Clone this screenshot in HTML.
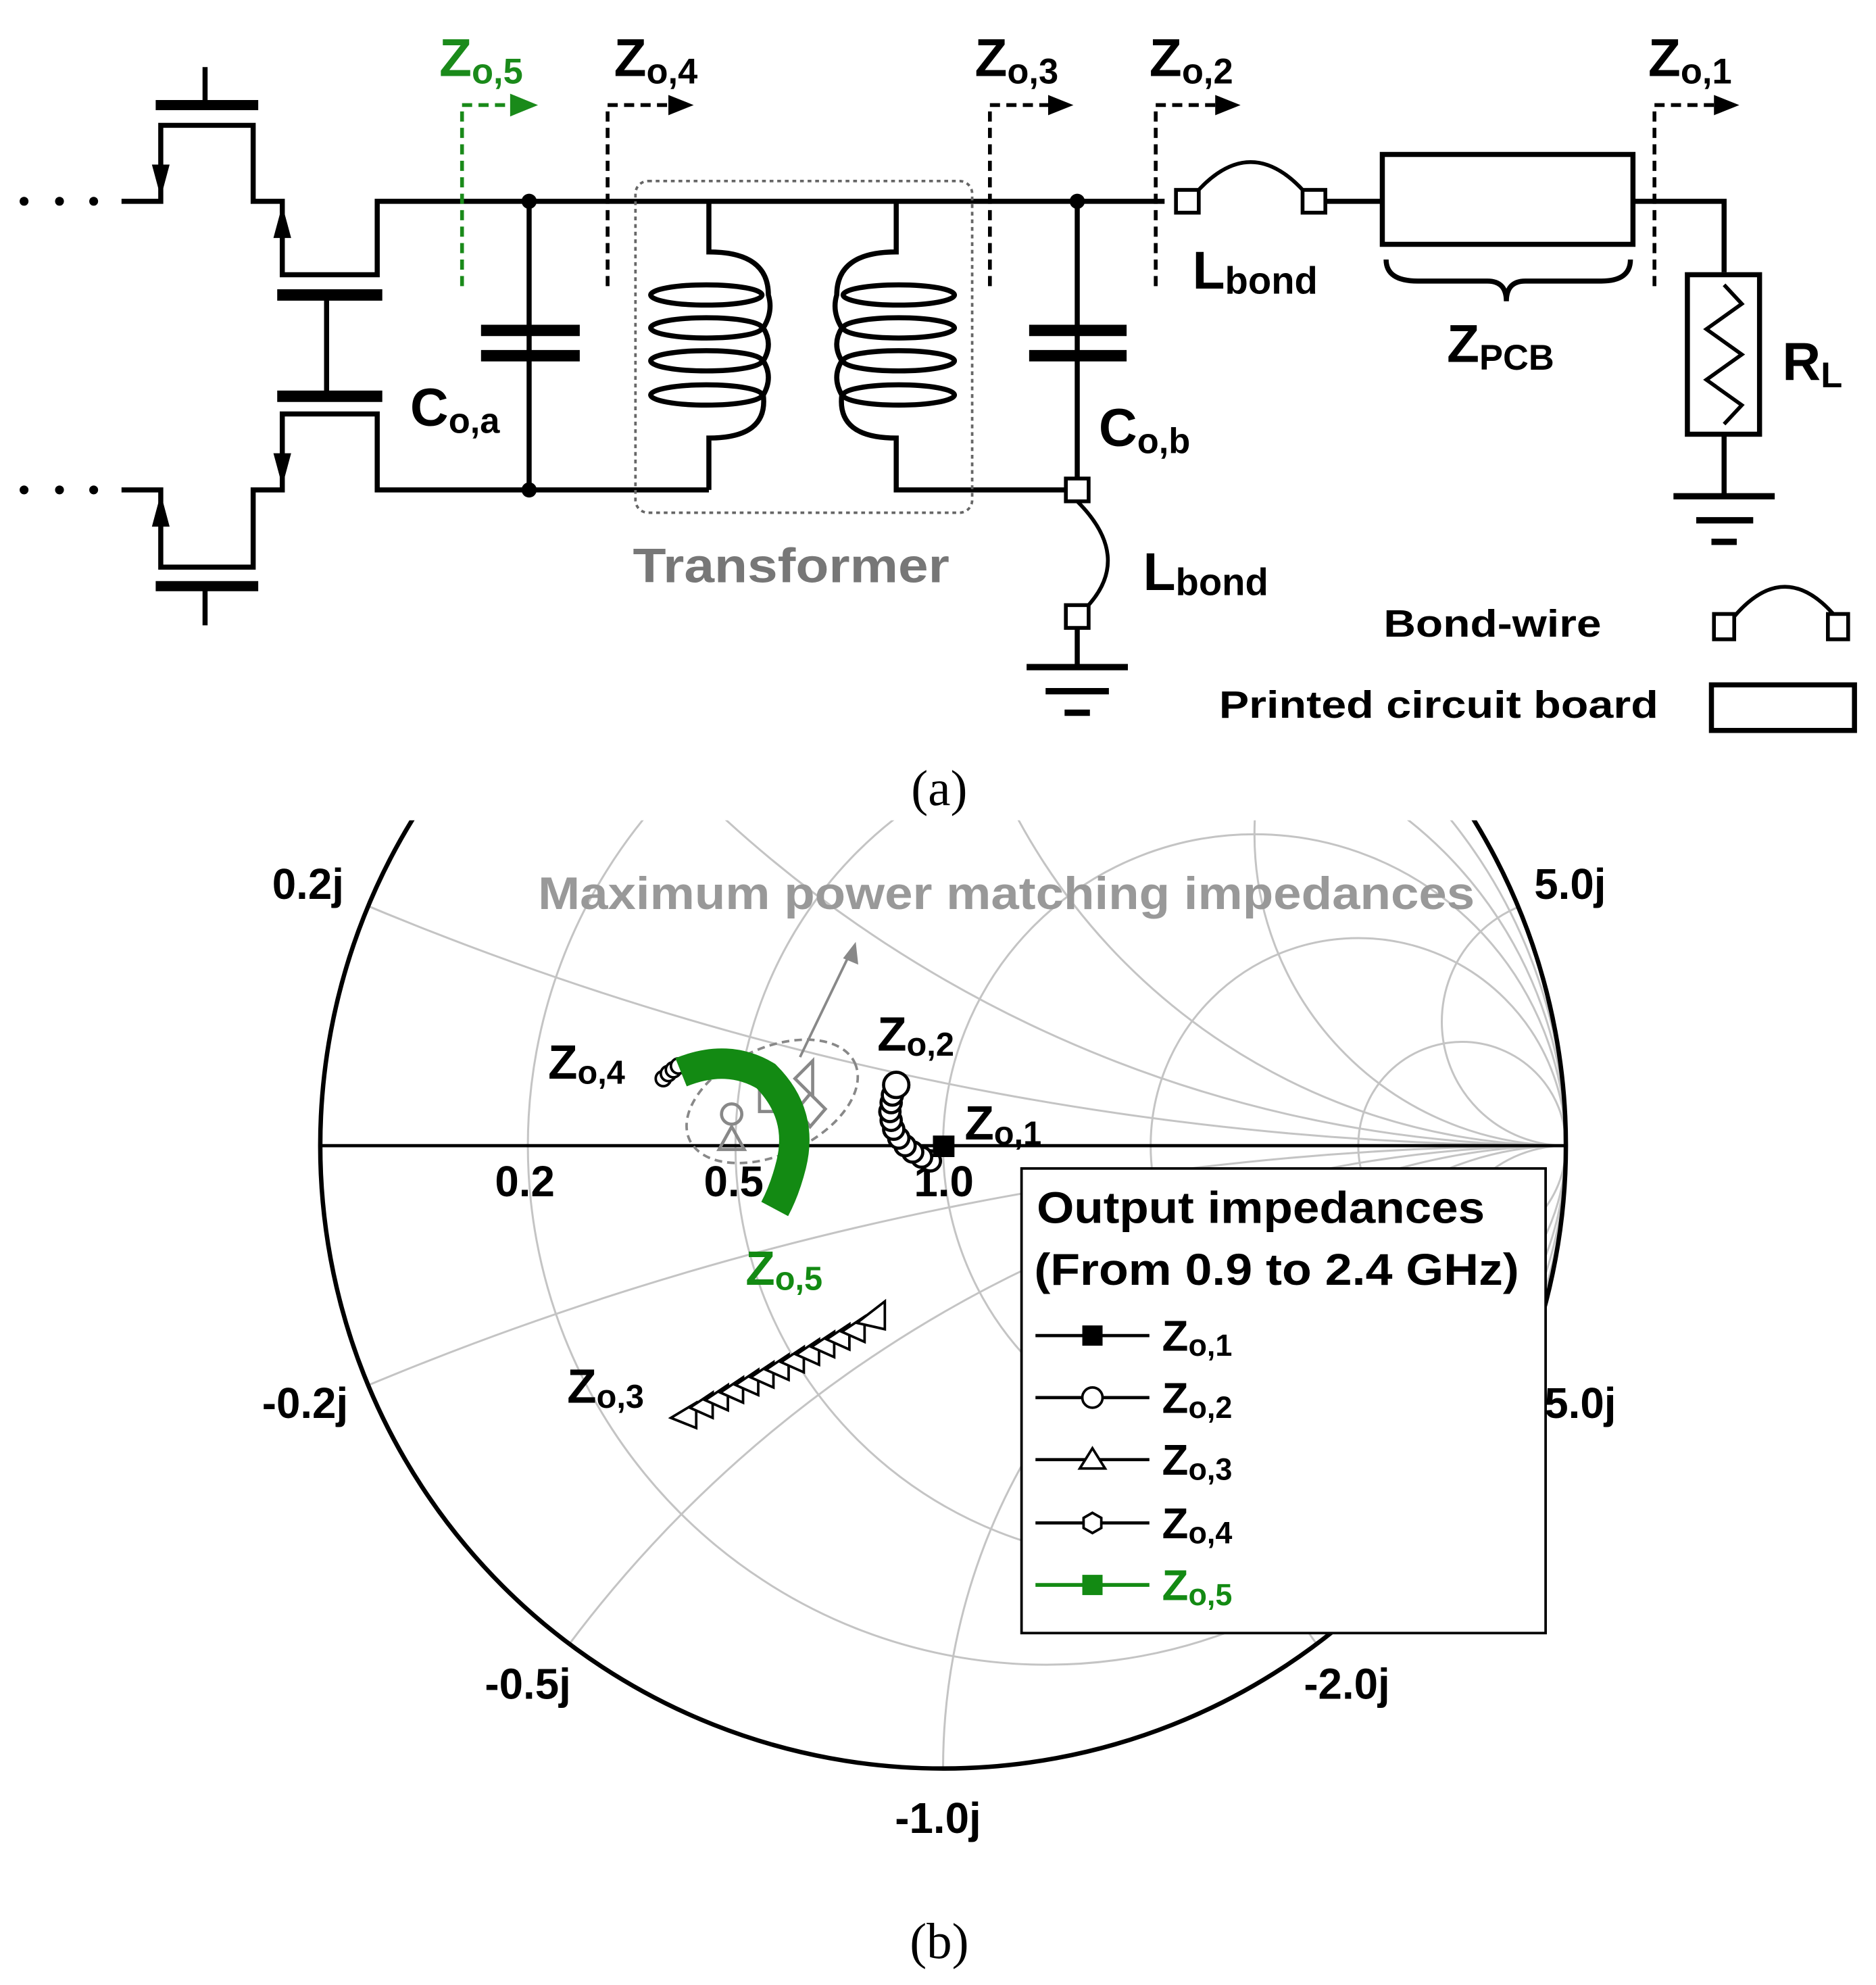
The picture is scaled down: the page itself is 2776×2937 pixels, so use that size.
<!DOCTYPE html>
<html><head><meta charset="utf-8"><style>
html,body{margin:0;padding:0;background:#fff;overflow:hidden;width:2776px;height:2937px;}
svg{display:block;}
text{font-family:"Liberation Sans",sans-serif;font-weight:bold;}
.s{font-family:"Liberation Serif",serif;font-weight:normal;}
</style></head><body>
<svg width="2776" height="2937" viewBox="0 0 1482 1568" preserveAspectRatio="none" xmlns="http://www.w3.org/2000/svg">
<defs>
<clipPath id="uc"><circle cx="745" cy="905" r="492"/></clipPath>
<clipPath id="top"><rect x="0" y="648" width="1482" height="920"/></clipPath>
</defs>
<g fill="none" stroke="#000" stroke-width="4">
<path d="M162,53V83"/>
<path d="M123,83H204" stroke-width="8"/>
<path d="M96,159H127V99H200V159H223V217H298V159H920"/>
<path d="M123,463H204" stroke-width="8"/><path d="M162,463V494"/>
<path d="M96,387H127V448H200V387H223V327H298V387H560"/>
<path d="M219,233H302M219,313H302" stroke-width="9"/>
<path d="M258,233V313"/>
<path d="M418,159V387"/><path d="M380,261H458M380,281H458" stroke-width="9"/>
<path d="M560,159V199Q607,199 607,233Q611,246 603,259Q611,272 603,285Q611,298 603,312Q607,346 560,346V387"/>
<ellipse cx="558" cy="233" rx="44" ry="8"/><ellipse cx="558" cy="259" rx="44" ry="8"/><ellipse cx="558" cy="285" rx="44" ry="8"/><ellipse cx="558" cy="312" rx="44" ry="8"/>
<path d="M708,159V199Q661,199 661,233Q657,246 665,259Q657,272 665,285Q657,298 665,312Q661,346 708,346V387H843"/>
<ellipse cx="710" cy="233" rx="44" ry="8"/><ellipse cx="710" cy="259" rx="44" ry="8"/><ellipse cx="710" cy="285" rx="44" ry="8"/><ellipse cx="710" cy="312" rx="44" ry="8"/>
<path d="M851,159V378"/><path d="M813,261H890M813,281H890" stroke-width="9"/>
<path d="M851,396Q895,440 859,479" stroke-width="3"/>
<path d="M851,496V527"/>
<path d="M811,527H891M826,546H876" stroke-width="5"/><path d="M841,563H861" stroke-width="5"/>
<path d="M946,151Q988,105 1030,151" stroke-width="3"/>
<path d="M1047,159H1092"/>
<rect x="1092" y="122" width="198" height="71"/>
<path d="M1290,159H1362V215M1362,343V392"/>
<rect x="1333" y="217" width="57" height="126"/>
<path d="M1362,225L1376,240L1348,260L1376,280L1348,300L1376,320L1362,335" stroke-width="3"/>
<path d="M1322,392H1402M1340,411H1385M1352,428H1372" stroke-width="5"/>
<path d="M1095,205Q1095,222 1120,222H1175Q1190,222 1190,238Q1190,222 1205,222H1265Q1288,222 1288,205" stroke-width="4"/>
<path d="M1370,487Q1410,440 1450,487" stroke-width="3"/>
<rect x="1352" y="541" width="113" height="36"/>
</g>
<g fill="#fff" stroke="#000" stroke-width="3">
<rect x="929" y="150" width="18" height="18"/><rect x="1029" y="150" width="18" height="18"/>
<rect x="842" y="378" width="18" height="18"/><rect x="842" y="478" width="18" height="18"/>
<rect x="1354" y="485" width="16" height="20"/><rect x="1444" y="485" width="16" height="20"/>
</g>
<g fill="#000"><circle cx="19" cy="159" r="3.5"/><circle cx="47" cy="159" r="3.5"/><circle cx="74" cy="159" r="3.5"/>
<circle cx="19" cy="387" r="3.5"/><circle cx="47" cy="387" r="3.5"/><circle cx="74" cy="387" r="3.5"/>
<circle cx="418" cy="159" r="6"/><circle cx="418" cy="387" r="6"/><circle cx="851" cy="159" r="6"/>
<path d="M127,156L120,130L134,130z"/><path d="M223,162L216,188L230,188z"/>
<path d="M127,390L120,416L134,416z"/><path d="M223,384L216,358L230,358z"/>
</g>
<rect x="502" y="143" width="266" height="262" rx="10" fill="none" stroke="#666" stroke-width="2" stroke-dasharray="3,3"/>
<g fill="none" stroke-width="3" stroke-dasharray="8,5">
<path d="M365,226V83H405" stroke="#1a8a1a"/>
<path d="M480,226V83H530" stroke="#000"/>
<path d="M782,226V83H830" stroke="#000"/>
<path d="M913,226V83H962" stroke="#000"/>
<path d="M1307,226V83H1356" stroke="#000"/>
</g>
<path d="M403,74L425,83L403,92z" fill="#1a8a1a"/>
<path d="M528,75L548,83L528,91z"/><path d="M828,75L848,83L828,91z"/><path d="M960,75L980,83L960,91z"/><path d="M1354,75L1374,83L1354,91z"/>
<g font-size="42">
<text x="347" y="60" fill="#1a8a1a">Z<tspan font-size="28" dy="6">o,5</tspan></text>
<text x="485" y="60">Z<tspan font-size="28" dy="6">o,4</tspan></text>
<text x="770" y="60">Z<tspan font-size="28" dy="6">o,3</tspan></text>
<text x="908" y="60">Z<tspan font-size="28" dy="6">o,2</tspan></text>
<text x="1302" y="60">Z<tspan font-size="28" dy="6">o,1</tspan></text>
<text x="324" y="336">C<tspan font-size="28" dy="6">o,a</tspan></text>
<text x="868" y="352">C<tspan font-size="28" dy="6">o,b</tspan></text>
<text x="942" y="228">L<tspan font-size="30" dy="4">bond</tspan></text>
<text x="903" y="466">L<tspan font-size="30" dy="4">bond</tspan></text>
<text x="1143" y="286">Z<tspan font-size="28" dy="6">PCB</tspan></text>
<text x="1408" y="300">R<tspan font-size="28" dy="6">L</tspan></text>
</g>
<text x="500" y="460" font-size="38" fill="#777" textLength="250" lengthAdjust="spacingAndGlyphs">Transformer</text>
<text x="1093" y="503" font-size="30" textLength="172" lengthAdjust="spacingAndGlyphs">Bond-wire</text>
<text x="963" y="567" font-size="30" textLength="347" lengthAdjust="spacingAndGlyphs">Printed circuit board</text>
<text class="s" x="742" y="636" font-size="40" text-anchor="middle">(a)</text>

<g clip-path="url(#top)">
<g clip-path="url(#uc)" fill="none" stroke="#c4c4c4" stroke-width="1.6">
<circle cx="827" cy="905" r="410"/><circle cx="909" cy="905" r="328"/><circle cx="991" cy="905" r="246"/><circle cx="1073" cy="905" r="164"/><circle cx="1155" cy="905" r="82"/>
<circle cx="1237" cy="-1555" r="2460"/><circle cx="1237" cy="3365" r="2460"/>
<circle cx="1237" cy="-79" r="984"/><circle cx="1237" cy="1889" r="984"/>
<circle cx="1237" cy="413" r="492"/><circle cx="1237" cy="1397" r="492"/>
<circle cx="1237" cy="659" r="246"/><circle cx="1237" cy="1151" r="246"/>
<circle cx="1237" cy="807" r="98"/><circle cx="1237" cy="1003" r="98"/>
</g>
<circle cx="745" cy="905" r="492" fill="none" stroke="#000" stroke-width="3.5"/>
</g>
<line x1="254" y1="905" x2="1237" y2="905" stroke="#000" stroke-width="2.5"/>
<g font-size="34">
<text x="215" y="710">0.2j</text><text x="1212" y="710">5.0j</text>
<text x="207" y="1120">-0.2j</text><text x="1220" y="1120">5.0j</text>
<text x="383" y="1342">-0.5j</text><text x="1030" y="1342">-2.0j</text>
<text x="707" y="1448">-1.0j</text>
<text x="391" y="945">0.2</text><text x="556" y="945">0.5</text><text x="722" y="945">1.0</text>
</g>
<text x="425" y="718" font-size="36" fill="#999" textLength="740" lengthAdjust="spacingAndGlyphs">Maximum power matching impedances</text>
<g fill="none" stroke="#888" stroke-width="2.5">
<ellipse cx="610" cy="870" rx="72" ry="42" transform="rotate(-25 610 870)" stroke-dasharray="6,4" stroke-width="2"/>
<path d="M632,835L672,752" stroke-width="2"/>
<circle cx="578" cy="880" r="8"/><path d="M578,890L568,908H588z"/>
<rect x="600" y="862" width="16" height="16"/><path d="M628,852L642,838V866z"/><path d="M640,864L652,876L640,890L630,876z"/>
</g>
<path d="M676,744L678,762L666,757z" fill="#888"/>
<g fill="#fff" stroke="#000" stroke-width="2">
<circle cx="524" cy="852" r="6"/><circle cx="528" cy="848" r="6"/><circle cx="532" cy="845" r="6"/><circle cx="536" cy="842" r="6"/>
</g>
<path d="M538,847Q575,832 605,850Q635,880 625,920Q620,940 612,955" fill="none" stroke="#138a13" stroke-width="24"/>
<g fill="#fff" stroke="#000" stroke-width="2.5">
<circle cx="735" cy="917" r="8"/><circle cx="728" cy="914" r="8"/><circle cx="721" cy="910" r="8"/><circle cx="715" cy="905" r="8"/><circle cx="710" cy="899" r="8"/><circle cx="706" cy="892" r="8"/><circle cx="704" cy="885" r="8"/><circle cx="703" cy="878" r="8"/><circle cx="704" cy="871" r="8"/><circle cx="705" cy="865" r="8"/><circle cx="708" cy="857" r="10"/>
</g>
<rect x="737" y="897" width="17" height="17" fill="#000"/>
<g fill="#fff" stroke="#000" stroke-width="2">
<path d="M530,1120L550,1108L550,1128z"/><path d="M545,1112L563,1100L563,1120z"/><path d="M557,1106L575,1094L575,1114z"/><path d="M569,1100L587,1088L587,1108z"/><path d="M581,1094L599,1082L599,1102z"/><path d="M593,1088L611,1076L611,1096z"/><path d="M605,1082L623,1070L623,1090z"/><path d="M617,1076L635,1064L635,1084z"/><path d="M629,1070L647,1058L647,1078z"/><path d="M641,1064L659,1052L659,1072z"/><path d="M653,1058L671,1046L671,1066z"/><path d="M665,1052L683,1040L683,1060z"/><path d="M677,1045L699,1028L699,1050z"/>
</g>
<g font-size="38">
<text x="433" y="852">Z<tspan font-size="26" dy="4">o,4</tspan></text>
<text x="693" y="830">Z<tspan font-size="26" dy="4">o,2</tspan></text>
<text x="762" y="900">Z<tspan font-size="26" dy="4">o,1</tspan></text>
<text x="589" y="1015" fill="#138a13">Z<tspan font-size="26" dy="4">o,5</tspan></text>
<text x="448" y="1108">Z<tspan font-size="26" dy="4">o,3</tspan></text>
</g>
<rect x="807" y="923" width="414" height="367" fill="#fff" stroke="#000" stroke-width="2"/>
<text x="819" y="966" font-size="35" textLength="354" lengthAdjust="spacingAndGlyphs">Output impedances</text>
<text x="817" y="1015" font-size="35" textLength="383" lengthAdjust="spacingAndGlyphs">(From 0.9 to 2.4 GHz)</text>
<g stroke="#000" stroke-width="2.5">
<line x1="818" y1="1055" x2="908" y2="1055"/><line x1="818" y1="1104" x2="908" y2="1104"/><line x1="818" y1="1153" x2="908" y2="1153"/><line x1="818" y1="1203" x2="908" y2="1203"/><line x1="818" y1="1252" x2="908" y2="1252" stroke="#138a13" stroke-width="3"/>
</g>
<rect x="855" y="1047" width="16" height="16"/>
<circle cx="863" cy="1104" r="8" fill="#fff" stroke="#000" stroke-width="2"/>
<path d="M863,1144L873,1160H853z" fill="#fff" stroke="#000" stroke-width="2"/>
<path d="M863,1195L870,1199V1207L863,1211L856,1207V1199z" fill="#fff" stroke="#000" stroke-width="2"/>
<rect x="855" y="1244" width="16" height="16" fill="#138a13"/>
<g font-size="34">
<text x="918" y="1067">Z<tspan font-size="24" dy="4">o,1</tspan></text>
<text x="918" y="1116">Z<tspan font-size="24" dy="4">o,2</tspan></text>
<text x="918" y="1165">Z<tspan font-size="24" dy="4">o,3</tspan></text>
<text x="918" y="1215">Z<tspan font-size="24" dy="4">o,4</tspan></text>
<text x="918" y="1264" fill="#138a13">Z<tspan font-size="24" dy="4">o,5</tspan></text>
</g>
<text class="s" x="742" y="1547" font-size="40" text-anchor="middle">(b)</text>
</svg>
</body></html>
